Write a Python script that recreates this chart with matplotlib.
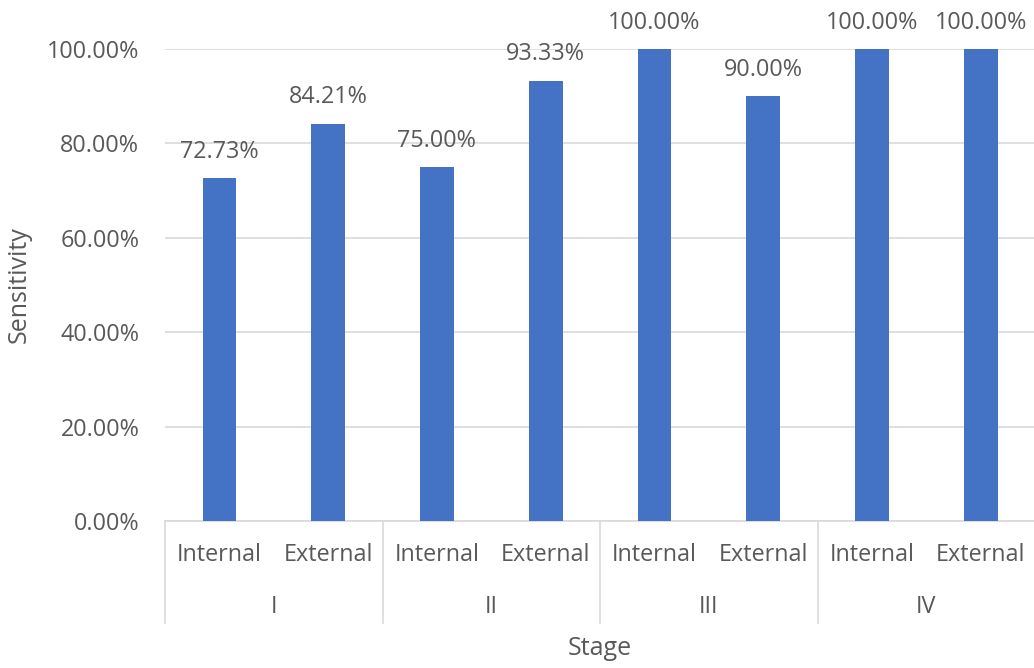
import matplotlib.pyplot as plt
from matplotlib.ticker import FuncFormatter

stages = ['I', 'II', 'III', 'IV']
cohorts = ['Internal', 'External']
sensitivity = [72.73, 84.21, 75.00, 93.33, 100.00, 90.00, 100.00, 100.00]

bar_color = '#4472C4'
text_color = '#595959'
grid_color = '#D9D9D9'

plt.rcParams['font.family'] = ['Open Sans', 'DejaVu Sans']

fig = plt.figure(figsize=(10.34, 6.68), dpi=100)
ax = fig.add_axes([0.1596, 0.22, 0.8414, 0.7066])

x = list(range(len(sensitivity)))
vals = [v / 100 for v in sensitivity]
ax.bar(x, vals, width=0.31, color=bar_color, zorder=3)

for xi, v in zip(x, sensitivity):
    ax.text(xi, v / 100 + 0.03, f'{v:.2f}%', ha='center', va='bottom',
            fontsize=16.8, color=text_color, clip_on=False)

ax.set_xlim(-0.5, len(x) - 0.5)
ax.set_ylim(0, 1.0)
ax.set_yticks([0, 0.2, 0.4, 0.6, 0.8, 1.0])
ax.yaxis.set_major_formatter(FuncFormatter(lambda v, _: f'{v * 100:.2f}%'))
ax.tick_params(axis='y', length=0, pad=18.5, labelsize=16.8, labelcolor=text_color)
ax.set_xticks([])
ax.grid(axis='y', color=grid_color, linewidth=1.2, zorder=0)
for s in ['top', 'right', 'left']:
    ax.spines[s].set_visible(False)
ax.spines['bottom'].set_color(grid_color)
ax.spines['bottom'].set_linewidth(1.2)

# two-level category axis
tr = ax.get_xaxis_transform()
for i, st in enumerate(stages):
    for j, c in enumerate(cohorts):
        ax.text(2 * i + j, -0.072, c, transform=tr, ha='center', va='center',
                fontsize=16.8, color=text_color)
    ax.text(2 * i + 0.5, -0.182, st, transform=tr, ha='center', va='center',
            fontsize=16.8, color=text_color)
    ax.plot([2 * i - 0.5, 2 * i - 0.5], [0, -0.216], transform=tr,
            color=grid_color, linewidth=1.2, clip_on=False)

ax.text(0.5 * (len(x) - 1), -0.269, 'Stage', transform=tr, ha='center',
        va='center', fontsize=18, color=text_color)
ax.set_ylabel('Sensitivity', fontsize=18, color=text_color, labelpad=11)

fig.savefig('out.png', dpi=100)
